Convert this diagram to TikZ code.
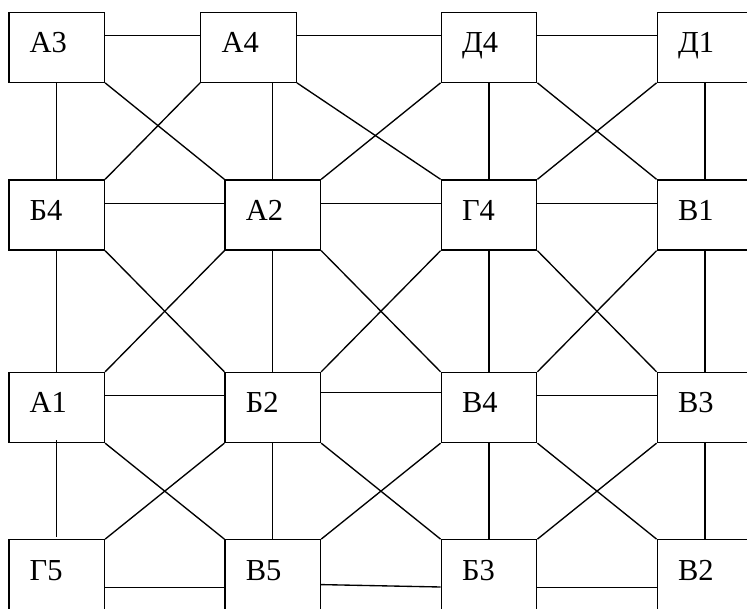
\documentclass[tikz,border=0pt]{standalone}
\usepackage{fontspec}
\setmainfont{Liberation Serif}
\usepackage{tikz}

\begin{document}
\begin{tikzpicture}[x=1pt, y=-1pt, line width=1.35pt,
  cell/.style={draw, fill=white, minimum width=95.5pt, minimum height=70pt,
    text width=54pt, align=left, inner xsep=0pt, inner ysep=0pt,
    text height=21pt, text depth=10pt, font=\fontsize{30.5}{36}\selectfont}]
  \useasboundingbox (0,0) rectangle (747,609);
  \clip (0,0) rectangle (747,609);
  % boxes
  \foreach \nm/\x/\y/\lab in {a3/56.7/47.2/А3, a4/248.5/47.2/А4, d4/489/47.2/Д4, d1/705/47.2/Д1,
      b4/56.7/215/Б4, a2/272.8/215/А2, g4/489/215/Г4, v1/705/215/В1,
      a1/56.7/407.5/А1, b2/272.8/407.5/Б2, v4/489/407.5/В4, v3/705/407.5/В3,
      g5/56.7/574.8/Г5, v5/272.8/574.8/В5, b3/489/574.8/Б3, v2/705/574.8/В2} {
    \node[cell] (\nm) at (\x,\y) {\lab};
  }
  % rows
  \foreach \p/\q/\s in {a3/a4/12, a4/d4/12, d4/d1/12, b4/a2/11.7, a2/g4/11.7, g4/v1/11.7,
      a1/b2/11.8, b2/v4/15, v4/v3/11.8, g5/v5/-12.8, b3/v2/-12.8} {
    \draw ([yshift=\s pt]\p.east) -- ([yshift=\s pt]\q.west);
  }
  \draw ([yshift=-9.8pt]v5.east) -- ([yshift=-12.2pt]b3.west);
  % columns
  \foreach \p/\q in {a3/b4, d4/g4, d1/v1, b4/a1, a2/b2, g4/v4, v1/v3, b2/v5, v4/b3, v3/v2} {
    \draw (\p.south) -- (\q.north);
  }
  \draw (a2.north |- a4.south) -- (a2.north);
  \draw ([yshift=3pt]a1.south) -- ([yshift=2.5pt]g5.north);
  % diagonals
  \foreach \p/\q in {a3/a2, a4/g4, d4/v1, b4/b2, a2/v4, g4/v3, a1/v5, b2/b3, v4/v2} {
    \draw (\p.south east) -- (\q.north west);
  }
  \foreach \p/\q in {a4/b4, d4/a2, d1/g4, a2/a1, g4/b2, v1/v4, b2/g5, v4/v5, v3/b3} {
    \draw (\p.south west) -- (\q.north east);
  }
\end{tikzpicture}
\end{document}
